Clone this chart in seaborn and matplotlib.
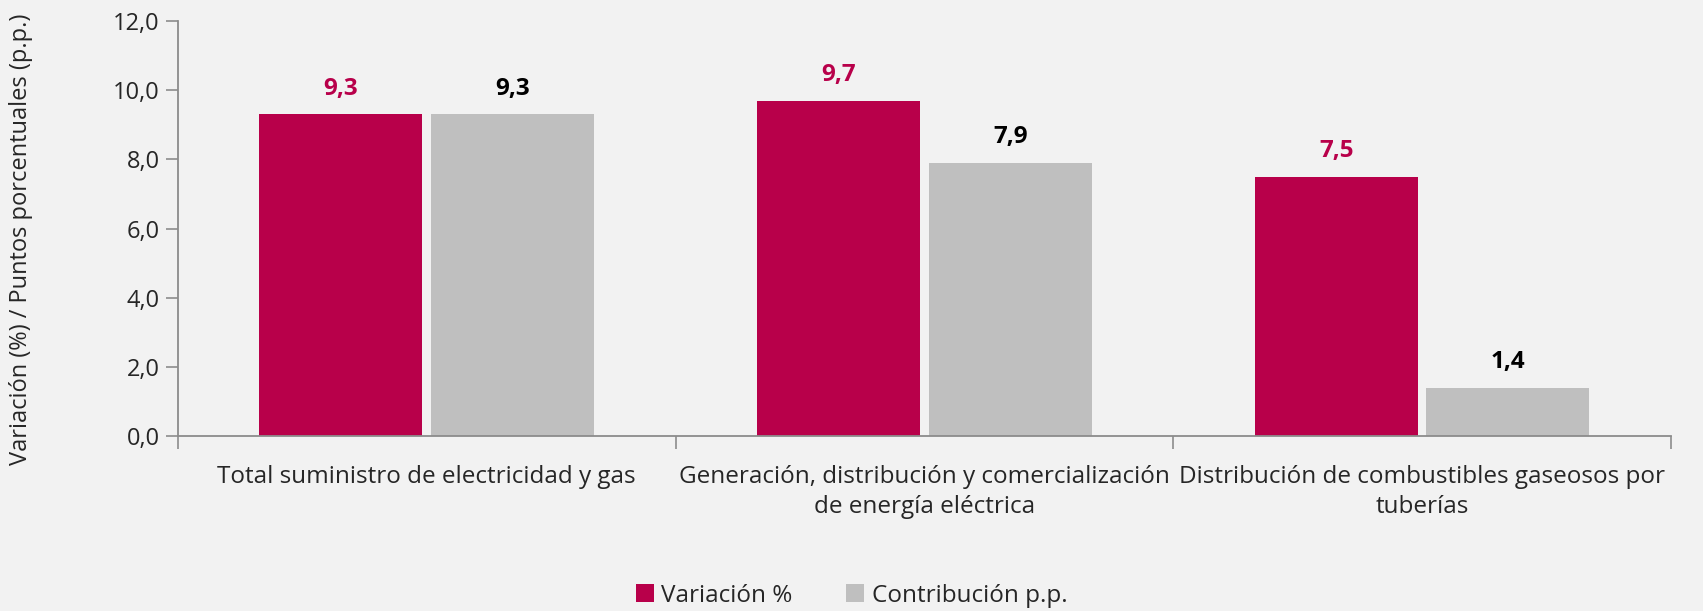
import pandas as pd
import matplotlib.pyplot as plt
import seaborn as sns

# --- data ---
categorias = [
    "Total suministro de electricidad y gas",
    "Generación, distribución y comercialización\nde energía eléctrica",
    "Distribución de combustibles gaseosos por\ntuberías",
]
series = ["Variación %", "Contribución p.p."]
variacion = [9.3, 9.7, 7.5]
contribucion = [9.3, 7.9, 1.4]

ROJO = "#B8004A"
GRIS = "#BFBFBF"
FONDO = "#F2F2F2"

df = pd.DataFrame({
    "categoria": categorias * 2,
    "serie": [series[0]] * 3 + [series[1]] * 3,
    "valor": variacion + contribucion,
})

sns.set_style("white")
plt.rcParams["font.family"] = ["Open Sans", "DejaVu Sans"]

fig = plt.figure(figsize=(17.03, 6.11), dpi=100, facecolor=FONDO)
ax = fig.add_axes([0.1045, 0.2864, 0.8766, 0.6792])
ax.set_facecolor(FONDO)

sns.barplot(
    data=df, x="categoria", y="valor", hue="serie",
    palette=[ROJO, GRIS], width=0.69, gap=0.05,
    saturation=1, linewidth=0, edgecolor="none", ax=ax, legend=True,
)

# data labels
for container, color in zip(ax.containers, [ROJO, "black"]):
    ax.bar_label(
        container, labels=[f"{v:.1f}".replace(".", ",") for v in container.datavalues],
        padding=10, color=color, fontsize=17.5, fontweight="bold",
    )

ax.set_ylim(0, 12)
ax.set_xlim(-0.5, 2.5)
ax.set_yticks([0, 2, 4, 6, 8, 10, 12])
ax.set_yticklabels([f"{t:.1f}".replace(".", ",") for t in [0, 2, 4, 6, 8, 10, 12]], fontsize=17)
ax.tick_params(axis="y", length=9, width=1.2, color="#8C8C8C", pad=4, left=True)
ax.tick_params(axis="x", which="major", length=0, labelsize=17.5, pad=21)
for lbl in ax.get_xticklabels():
    lbl.set_linespacing(1.35)
ax.set_xticks([-0.5, 0.5, 1.5, 2.5], minor=True)
ax.tick_params(axis="x", which="minor", length=9, width=1.2, color="#8C8C8C", bottom=True)

ax.set_xlabel("")
ax.set_ylabel("Variación (%) / Puntos porcentuales (p.p.)", fontsize=17)
ax.yaxis.set_label_coords(-0.097, 0.475)

for side in ["top", "right"]:
    ax.spines[side].set_visible(False)
for side in ["left", "bottom"]:
    ax.spines[side].set_color("#8C8C8C")
    ax.spines[side].set_linewidth(1.3)

ax.legend(
    loc="center", bbox_to_anchor=(0.5, 0.025), bbox_transform=fig.transFigure,
    ncol=2, frameon=False, fontsize=17.5, handlelength=0.75, handleheight=0.75,
    handletextpad=0.3, columnspacing=2.2, title=None,
)

fig.savefig("out.png", dpi=100, facecolor=FONDO)
